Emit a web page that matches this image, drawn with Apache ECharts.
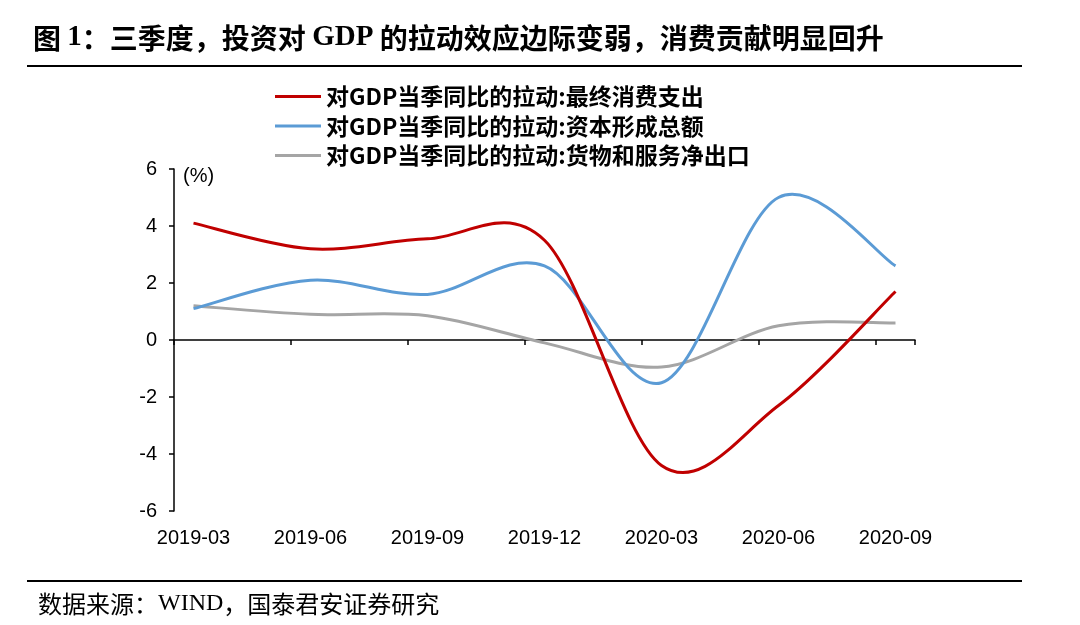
<!DOCTYPE html>
<html>
<head>
<meta charset="utf-8">
<script src="https://cdn.jsdelivr.net/npm/echarts@6/dist/echarts.min.js"></script>
<style>
html,body{margin:0;padding:0;background:#fff;}
#c{width:1080px;height:625px;}
</style>
</head>
<body>
<div id="c"></div>
<script>
// ---- data ----
const months = ['2019-03','2019-04','2019-05','2019-06','2019-07','2019-08','2019-09','2019-10','2019-11','2019-12',
                '2020-01','2020-02','2020-03','2020-04','2020-05','2020-06','2020-07','2020-08','2020-09'];
const quarters = ['2019-03','2019-06','2019-09','2019-12','2020-03','2020-06','2020-09'];
const consumption = [4.1, 3.2, 3.55, 3.5, -4.4, -2.3, 1.7];
const capital     = [1.1, 2.1, 1.6, 2.6, -1.5, 5.0, 2.6];
const netExports  = [1.2, 0.9, 0.85, -0.1, -0.95, 0.5, 0.6];
const seriesNames = ['对GDP当季同比的拉动:最终消费支出','对GDP当季同比的拉动:资本形成总额','对GDP当季同比的拉动:货物和服务净出口'];
const yTicks = [-6, -4, -2, 0, 2, 4, 6];

const chart = echarts.init(document.getElementById('c'), null, {renderer:'canvas'});
const colors = ['#C00000', '#5B9BD5', '#A5A5A5'];
const vals = [consumption, capital, netExports];

// smooth curve (Catmull-Rom style Bezier, like spreadsheet smoothing) through library-mapped points
function makeRender(k) {
  return function (params, api) {
    if (params.dataIndex !== 0) return null;
    const pts = quarters.map((q, i) => api.coord([months.indexOf(q), vals[k][i]]));
    const n = pts.length;
    let d = 'M' + pts[0][0] + ' ' + pts[0][1];
    for (let i = 0; i < n - 1; i++) {
      const p0 = pts[Math.max(i - 1, 0)], p1 = pts[i], p2 = pts[i + 1], p3 = pts[Math.min(i + 2, n - 1)];
      const c1x = p1[0] + (p2[0] - p0[0]) / 6, c1y = p1[1] + (p2[1] - p0[1]) / 6;
      const c2x = p2[0] - (p3[0] - p1[0]) / 6, c2y = p2[1] - (p3[1] - p1[1]) / 6;
      d += ' C' + c1x + ' ' + c1y + ' ' + c2x + ' ' + c2y + ' ' + p2[0] + ' ' + p2[1];
    }
    return {type: 'path', shape: {pathData: d}, style: {stroke: colors[k], lineWidth: 3, fill: null, lineJoin: 'round'}};
  };
}

chart.setOption({
  animation: false,
  backgroundColor: '#fff',
  grid: {left: 174, right: 165, top: 169, bottom: 114, containLabel: false},
  legend: {
    orient: 'vertical', left: 270, top: 80,
    icon: 'rect', itemWidth: 46, itemHeight: 3, itemGap: 6.5,
    textStyle: {fontFamily: '"Noto Sans CJK SC"', fontWeight: 'bold', fontSize: 23, color: '#000', lineHeight: 23},
    data: seriesNames
  },
  xAxis: [{
    type: 'category', data: months, boundaryGap: true,
    axisLine: {onZero: true, lineStyle: {color: '#000', width: 1.5}},
    axisTick: {show: true, interval: 2, length: 5, lineStyle: {color: '#000', width: 1.5}},
    axisLabel: {show: false}
  }, {
    type: 'category', data: months, boundaryGap: true, position: 'bottom',
    axisLine: {show: false, onZero: false}, axisTick: {show: false},
    axisLabel: {interval: 2, margin: 17, fontFamily: '"Liberation Sans"', fontSize: 20, color: '#000'}
  }],
  yAxis: {
    type: 'value', min: yTicks[0], max: yTicks[yTicks.length-1], interval: 2,
    splitLine: {show: false},
    axisLine: {show: true, lineStyle: {color: '#000', width: 1.5}},
    axisTick: {show: true, length: 5, lineStyle: {color: '#000', width: 1.5}},
    axisLabel: {margin: 17, fontFamily: '"Liberation Sans"', fontSize: 20, color: '#000'}
  },
  series: seriesNames.map((n, k) => ({
    name: n, type: 'custom', xAxisIndex: 0, yAxisIndex: 0,
    renderItem: makeRender(k),
    itemStyle: {color: colors[k]},
    data: quarters.map((q, i) => [months.indexOf(q), vals[k][i]]),
    z: 3 - k
  })),
  graphic: [
    {type: 'text', x: 33, y: 38, style: {
      text: '{a|图 }{b|1}{a|：三季度，投资对 }{b|GDP}{a| 的拉动效应边际变弱，消费贡献明显回升}',
      verticalAlign: 'middle',
      rich: {
        a: {font: 'bold 28px "Noto Sans CJK SC"', fill: '#000'},
        b: {font: 'bold 29px "Liberation Serif"', fill: '#000'}
      }
    }},
    {type: 'line', shape: {x1: 27, y1: 66, x2: 1022, y2: 66}, style: {stroke: '#000', lineWidth: 2}},
    {type: 'line', shape: {x1: 27, y1: 581, x2: 1022, y2: 581}, style: {stroke: '#000', lineWidth: 2}},
    {type: 'text', x: 38, y: 604, style: {
      text: '{a|数据来源：}{b|WIND}{a|，国泰君安证券研究}', verticalAlign: 'middle',
      rich: {
        a: {font: '24px "Noto Sans CJK SC"', fill: '#000'},
        b: {font: '24px "Liberation Serif"', fill: '#000'}
      }
    }},
    {type: 'text', x: 183, y: 176, style: {
      text: '(%)', verticalAlign: 'middle', font: '20px "Liberation Sans"', fill: '#000'
    }}
  ]
});
</script>
</body>
</html>
